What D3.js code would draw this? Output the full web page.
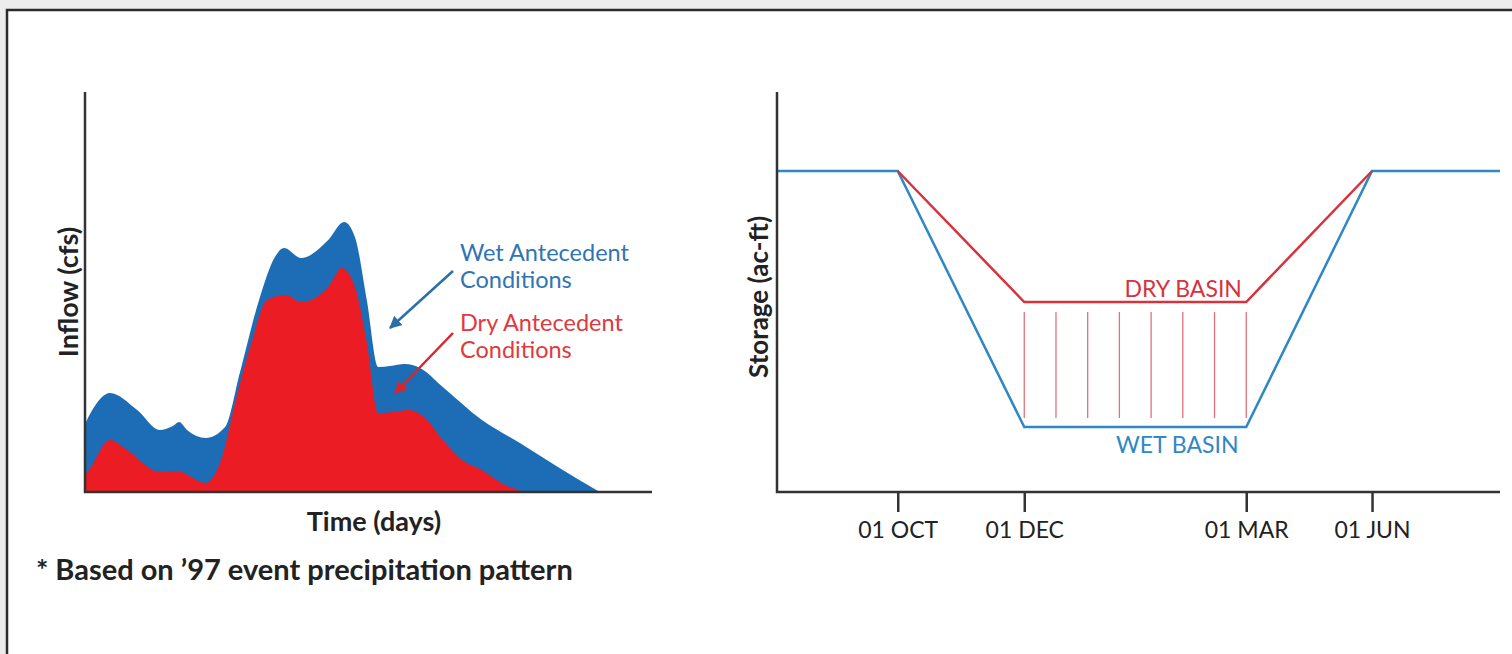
<!DOCTYPE html>
<html>
<head>
<meta charset="utf-8">
<script src="https://cdn.jsdelivr.net/npm/d3@7"></script>
<style>
  body { margin: 0; background: #ececec; }
  svg { display: block; }
  text { font-family: Lato, "Open Sans", sans-serif; }
</style>
</head>
<body>
<div id="chart"></div>
<script>
'use strict';

// left panel: inflow hydrographs, [day, inflow] (relative units)
var wetInflow = [[0,17],[1.5,21],[4.4,24.75],[9.2,20.5],[13.2,15.5],[15.5,16.5],[16.6,17.5],[18,15.5],[21.3,13.5],[24.7,16.25],
  [27.3,29.75],[30.7,48],[33.5,58.75],[35.1,61],[38.1,58.5],[42.9,63],[45.7,67.5],[47.6,63.75],[49.7,48],[51.7,31.25],
  [53.8,31.5],[56.4,32],[59.1,31],[63.1,26.25],[70,18],[76.7,12.25],[83.4,6.25],[90.8,0]];
var dryInflow = [[0,4.25],[0.7,5.5],[4.4,13],[7.4,10.5],[13.2,5],[16.2,5.25],[21.3,2.25],[24,8],[26.6,23],[29.5,38],
  [32.1,48],[35.4,49.25],[38.1,47.5],[42.9,51.25],[45.3,56],[47.6,51.25],[49.7,37.25],[51.7,19.75],[54.3,20],[57.1,20.5],
  [59.8,18.75],[63.1,13],[66.5,8],[70,5.5],[73.4,2.25],[77.4,0]];

// right panel: storage over the season (schematic positions)
var monthTicks = ["01 OCT", "01 DEC", "01 MAR", "01 JUN"];
var monthPos = [16.7, 34.2, 64.9, 82.3];
var wetStorage = [[0,80.25],[16.7,80.25],[34.2,16.25],[64.9,16.25],[82.3,80.25],[100,80.25]];
var dryStorage = [[16.7,80.25],[34.2,47.5],[64.9,47.5],[82.3,80.25]];
var hatchCount = 8;
var hatchRange = [18.5, 45];

var W = 1512, H = 654;
var svg = d3.select("#chart").append("svg").attr("width", W).attr("height", H);

// frame
svg.append("rect").attr("x", 7).attr("y", 10).attr("width", W).attr("height", H).attr("fill", "#fff");
svg.append("path").attr("d", "M7," + H + "V10H" + W)
  .attr("fill", "none").attr("stroke", "#2b2b2b").attr("stroke-width", 2.5);

var BLUE = "#1c6db5", RED = "#ec1c24";

svg.append("defs").selectAll("marker")
  .data([["arrBlue", "#2a6fa8"], ["arrRed", "#d8262e"]])
  .enter().append("marker")
  .attr("id", function(d) { return d[0]; })
  .attr("viewBox", "0 0 10 10").attr("refX", 9).attr("refY", 5)
  .attr("markerWidth", 5).attr("markerHeight", 5).attr("orient", "auto")
  .append("path").attr("d", "M0,0L10,5L0,10z").attr("fill", function(d) { return d[1]; });

// ---- left chart
var x1 = d3.scaleLinear().domain([0, 100]).range([85, 652]);
var y1 = d3.scaleLinear().domain([0, 100]).range([492, 92]);

var area = d3.area()
  .x(function(d) { return x1(d[0]); })
  .y0(y1(0))
  .y1(function(d) { return y1(d[1]); })
  .curve(d3.curveMonotoneX);

svg.append("path").datum(wetInflow).attr("d", area).attr("fill", BLUE);
svg.append("path").datum(dryInflow).attr("d", area).attr("fill", RED);

svg.append("path").attr("d", "M" + x1(0) + "," + y1(100) + "V" + y1(0) + "H" + x1(100))
  .attr("fill", "none").attr("stroke", "#333").attr("stroke-width", 2.5);

svg.append("text").attr("transform", "translate(78,292) rotate(-90)")
  .attr("text-anchor", "middle").attr("font-size", 27).attr("font-weight", "bold").attr("fill", "#222")
  .text("Inflow (cfs)");
svg.append("text").attr("x", 374).attr("y", 531)
  .attr("text-anchor", "middle").attr("font-size", 27).attr("font-weight", "bold").attr("fill", "#222")
  .text("Time (days)");
svg.append("text").attr("x", 36).attr("y", 580)
  .attr("font-size", 29).attr("font-weight", "bold").attr("fill", "#222")
  .text("* Based on \u201997 event precipitation pattern");

var notes = [
  {lines: ["Wet Antecedent", "Conditions"], color: "#2f74b5", y: 261, from: [64.9, 55.25], to: [53.8, 41], marker: "arrBlue", stroke: "#2a6fa8"},
  {lines: ["Dry Antecedent", "Conditions"], color: "#e0393e", y: 331, from: [64.9, 39.75], to: [54.7, 24.75], marker: "arrRed", stroke: "#d8262e"}
];
notes.forEach(function(n) {
  var t = svg.append("text").attr("x", 460).attr("y", n.y).attr("font-size", 23.5).attr("fill", n.color);
  n.lines.forEach(function(l, i) {
    t.append("tspan").attr("x", 460).attr("dy", i ? 27 : 0).text(l);
  });
  svg.append("line")
    .attr("x1", x1(n.from[0])).attr("y1", y1(n.from[1]))
    .attr("x2", x1(n.to[0])).attr("y2", y1(n.to[1]))
    .attr("stroke", n.stroke).attr("stroke-width", 2.5)
    .attr("marker-end", "url(#" + n.marker + ")");
});

// ---- right chart
var x2 = d3.scaleLinear().domain([0, 100]).range([777, 1500]);
var y2 = d3.scaleLinear().domain([0, 100]).range([492, 92]);

var hx = d3.range(hatchCount).map(function(i) {
  return monthPos[1] + (monthPos[2] - monthPos[1]) * i / (hatchCount - 1);
});
svg.selectAll(".hatch").data(hx).enter().append("line")
  .attr("class", "hatch")
  .attr("x1", function(d) { return x2(d); }).attr("x2", function(d) { return x2(d); })
  .attr("y1", y2(hatchRange[1])).attr("y2", y2(hatchRange[0]))
  .attr("stroke", "#e0707a").attr("stroke-width", 1.3);

var line = d3.line()
  .x(function(d) { return x2(d[0]); })
  .y(function(d) { return y2(d[1]); });

svg.append("path").datum(wetStorage).attr("d", line)
  .attr("fill", "none").attr("stroke", "#2f87c4").attr("stroke-width", 2.5);
svg.append("path").datum(dryStorage).attr("d", line)
  .attr("fill", "none").attr("stroke", "#d7333d").attr("stroke-width", 2.5);

svg.append("path").attr("d", "M" + x2(0) + "," + y2(100) + "V" + y2(0) + "H" + x2(100))
  .attr("fill", "none").attr("stroke", "#333").attr("stroke-width", 2.5);

var xAxis = d3.axisBottom(x2).tickValues(monthPos)
  .tickFormat(function(d, i) { return monthTicks[i]; })
  .tickSize(20).tickPadding(10);
var ax = svg.append("g").attr("transform", "translate(0," + y2(0) + ")").call(xAxis);
ax.select(".domain").remove();
ax.selectAll(".tick line").attr("stroke", "#333").attr("stroke-width", 2.5);
ax.selectAll(".tick text").attr("font-size", 23).attr("fill", "#222")
  .style("font-family", "Lato, 'Open Sans', sans-serif");

svg.append("text").attr("transform", "translate(768,297) rotate(-90)")
  .attr("text-anchor", "middle").attr("font-size", 26).attr("font-weight", "bold").attr("fill", "#222")
  .text("Storage (ac-ft)");

// basin labels sit just right of the middle of the flat stretch
var midX = x2((monthPos[1] + monthPos[2]) / 2) + 48;
svg.append("text").attr("x", midX).attr("y", y2(47.5) - 5)
  .attr("text-anchor", "middle").attr("font-size", 23).attr("fill", "#d7333d").text("DRY BASIN");
svg.append("text").attr("x", midX - 6).attr("y", y2(16.25) + 26)
  .attr("text-anchor", "middle").attr("font-size", 23).attr("fill", "#2f87c4").text("WET BASIN");
</script>
</body>
</html>
